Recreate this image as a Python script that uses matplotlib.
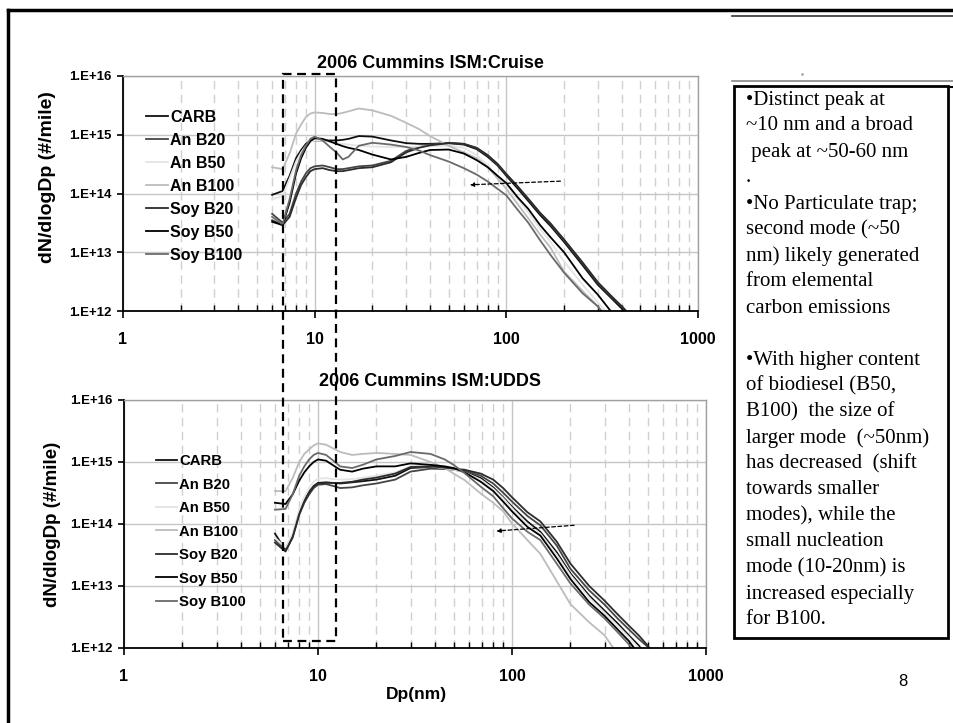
import numpy as np
import matplotlib
matplotlib.use("Agg")
import matplotlib.pyplot as plt
import matplotlib.transforms as mtransforms
from matplotlib.ticker import LogLocator, FuncFormatter, NullLocator, NullFormatter
from matplotlib.patches import Rectangle
from matplotlib.lines import Line2D

plt.rcParams['font.family'] = ['Liberation Sans', 'DejaVu Sans']

# Series
series_names = ['CARB', 'An B20', 'An B50', 'An B100', 'Soy B20', 'Soy B50', 'Soy B100']
series_colors = ['#101010', '#454545', '#e4e4e4', '#bcbcbc', '#2c2c2c', '#000000', '#6a6a6a']

# Cruise cycle (top chart), particle diameter in nm
dp_cruise = [6, 6.8, 7.4, 8, 8.5, 9, 9.5, 10, 11, 12, 13, 14, 15, 17, 20, 25, 30, 35, 40, 50, 60, 70, 80, 90,
             100, 115, 130, 150, 170, 200, 250, 300, 350, 400, 450]
cruise_carb = [9.5e13, 1.1e14, 2e14, 4e14, 5.5e14, 7e14, 7.8e14, 8e14, 8e14, 8e14, 8e14, 8.2e14, 8.5e14, 9.5e14,
               9.3e14, 8e14, 7.2e14, 7e14, 7e14, 7.2e14, 6.8e14, 5.7e14, 4.2e14, 3e14, 2e14, 1.2e14, 7.5e13,
               4.3e13, 2.8e13, 1.5e13, 6e12, 2.8e12, 1.7e12, 1.1e12, 7e11]
cruise_anb20 = [4.5e13, 3.2e13, 4.5e13, 1e14, 1.6e14, 2.2e14, 2.7e14, 2.9e14, 3e14, 2.8e14, 2.6e14, 2.6e14, 2.7e14,
                2.9e14, 3e14, 3.6e14, 5.3e14, 6.2e14, 6.8e14, 7.3e14, 7e14, 5.9e14, 4.4e14, 3.1e14, 2.1e14, 1.3e14,
                8e13, 4.6e13, 3e13, 1.6e13, 6.5e12, 3e12, 1.8e12, 1.2e12, 8e11]
cruise_anb50 = [8e13, 9e13, 1.8e14, 3.5e14, 5e14, 6.5e14, 7.5e14, 8e14, 8e14, 7.6e14, 7.2e14, 7e14, 6.8e14, 6.5e14,
                6.3e14, 6.2e14, 6.2e14, 6.3e14, 6.4e14, 6.5e14, 6e14, 4.5e14, 3e14, 2e14, 1.4e14, 8e13, 4.8e13,
                2.5e13, 1.5e13, 7e12, 2.8e12, 1.4e12, 8e11, 5e11, 3e11]
cruise_anb100 = [2.8e14, 2.6e14, 4.8e14, 1.05e15, 1.5e15, 2e15, 2.3e15, 2.4e15, 2.35e15, 2.25e15, 2.25e15, 2.35e15,
                 2.5e15, 2.8e15, 2.6e15, 2.1e15, 1.6e15, 1.25e15, 9.5e14, 6.5e14, 5e14, 4e14, 2.8e14, 1.8e14,
                 1.2e14, 6.5e13, 3.8e13, 2e13, 1.2e13, 4.7e12, 2.2e12, 1.2e12, 7e11, 4e11, 3e11]
cruise_soyb20 = [3.5e13, 2.9e13, 4e13, 8.5e13, 1.4e14, 1.9e14, 2.4e14, 2.6e14, 2.7e14, 2.5e14, 2.4e14, 2.4e14,
                 2.5e14, 2.7e14, 2.8e14, 3.4e14, 5e14, 6e14, 6.6e14, 7.2e14, 7e14, 6e14, 4.5e14, 3.2e14, 2.15e14,
                 1.3e14, 8.2e13, 4.7e13, 3.1e13, 1.65e13, 6.7e12, 3.1e12, 1.85e12, 1.2e12, 8e11]
cruise_soyb50 = [3.3e13, 2.9e13, 7e13, 2.2e14, 4e14, 6e14, 7.8e14, 8.8e14, 8.5e14, 7.7e14, 7e14, 6.4e14, 6e14,
                 5.5e14, 4.6e14, 3.8e14, 4.2e14, 4.9e14, 5.5e14, 5.6e14, 4.8e14, 3.7e14, 2.8e14, 2e14, 1.5e14,
                 8.5e13, 5.5e13, 2.9e13, 1.8e13, 1e13, 3.6e12, 1.9e12, 1e12, 6e11, 4e11]
cruise_soyb100 = [4e13, 3e13, 8e13, 2.5e14, 4.5e14, 6.5e14, 8.5e14, 9.3e14, 8e14, 6.2e14, 5e14, 3.8e14, 4.2e14,
                  6.5e14, 7.3e14, 6.8e14, 6.2e14, 5.4e14, 4.5e14, 3.5e14, 2.7e14, 2.1e14, 1.6e14, 1.2e14, 9.3e13,
                  5.2e13, 3.2e13, 1.6e13, 9e12, 4.5e12, 2e12, 1.2e12, 6e11, 4e11, 3e11]

# UDDS cycle (bottom chart)
dp_udds = [6, 6.8, 7.4, 8, 8.5, 9, 9.5, 10, 11, 12, 13, 15, 17, 20, 25, 30, 38, 45, 50, 57, 69, 80, 90, 100,
           120, 140, 170, 200, 250, 300, 350, 400, 450, 500, 550]
udds_carb = [7e13, 3.8e13, 6.5e13, 1.5e14, 2.4e14, 3.3e14, 4.1e14, 4.6e14, 4.7e14, 4.6e14, 4.5e14, 4.7e14, 4.9e14,
             5.2e14, 6e14, 8e14, 8.3e14, 7.8e14, 7.5e14, 7e14, 5.5e14, 3.9e14, 2.7e14, 1.9e14, 1.1e14, 7.5e13,
             3.5e13, 1.6e13, 7e12, 4e12, 2.5e12, 1.6e12, 1.1e12, 7e11, 4e11]
udds_anb20 = [5.5e13, 3.7e13, 6e13, 1.4e14, 2.2e14, 3e14, 3.8e14, 4.3e14, 4.4e14, 4.1e14, 3.8e14, 3.9e14, 4.2e14,
              4.5e14, 5.2e14, 7e14, 7.8e14, 7.7e14, 7.6e14, 7.3e14, 6e14, 4.5e14, 3.2e14, 2.3e14, 1.35e14, 9.5e13,
              4.5e13, 1.9e13, 8.5e12, 5e12, 3e12, 2e12, 1.4e12, 1.05e12, 7e11]
udds_anb50 = [6e13, 4.2e13, 7e13, 1.7e14, 2.7e14, 3.8e14, 4.8e14, 5.4e14, 5.5e14, 5.3e14, 5.2e14, 5.3e14, 5.6e14,
              6e14, 6.8e14, 8.5e14, 8.5e14, 7.9e14, 7.5e14, 6.8e14, 5.2e14, 3.7e14, 2.6e14, 1.8e14, 1e14, 7e13,
              3.2e13, 1.5e13, 6.5e12, 3.7e12, 2.3e12, 1.5e12, 1e12, 6.5e11, 4e11]
udds_anb100 = [3.4e14, 3.4e14, 5.5e14, 1e15, 1.35e15, 1.6e15, 1.85e15, 2e15, 1.9e15, 1.65e15, 1.45e15, 1.3e15,
               1.35e15, 1.4e15, 1.35e15, 1.3e15, 1e15, 8e14, 6.5e14, 5.1e14, 3.1e14, 2.2e14, 1.6e14, 1.02e14,
               5.5e13, 3.3e13, 1.2e13, 5.1e12, 2.6e12, 1.6e12, 8e11, 5e11, 3e11, 2e11, 1e11]
udds_soyb20 = [5e13, 3.6e13, 6.2e13, 1.45e14, 2.3e14, 3.2e14, 4e14, 4.5e14, 4.6e14, 4.6e14, 4.6e14, 4.8e14, 5.2e14,
               5.6e14, 6.5e14, 8.3e14, 8.5e14, 8.1e14, 7.8e14, 7.5e14, 6.5e14, 5.2e14, 3.8e14, 2.7e14, 1.55e14,
               1.1e14, 5.2e13, 2.3e13, 1e13, 5.8e12, 3.5e12, 2.3e12, 1.6e12, 1.1e12, 7e11]
udds_soyb50 = [2.2e14, 2.1e14, 3e14, 5e14, 6.8e14, 8.5e14, 1e15, 1.1e15, 1.05e15, 8.8e14, 7.5e14, 7e14, 7.8e14,
               8.5e14, 8.5e14, 9.5e14, 9e14, 8.5e14, 8e14, 6.8e14, 4.8e14, 3.4e14, 2.3e14, 1.6e14, 9e13, 6.5e13,
               2.8e13, 1.3e13, 5.5e12, 3.3e12, 2e12, 1.3e12, 8e11, 5e11, 3e11]
udds_soyb100 = [1.7e14, 1.75e14, 3e14, 6e14, 8.5e14, 1.1e15, 1.3e15, 1.4e15, 1.3e15, 1.05e15, 8.5e14, 8e14, 9e14,
                1.1e15, 1.25e15, 1.45e15, 1.35e15, 1.1e15, 9e14, 6.6e14, 4e14, 2.8e14, 1.8e14, 1.23e14, 7.5e13,
                5.5e13, 2.3e13, 1.1e13, 5e12, 3e12, 1.8e12, 1.15e12, 7e11, 4e11, 3e11]

cruise_series = [cruise_carb, cruise_anb20, cruise_anb50, cruise_anb100, cruise_soyb20, cruise_soyb50, cruise_soyb100]
udds_series = [udds_carb, udds_anb20, udds_anb50, udds_anb100, udds_soyb20, udds_soyb50, udds_soyb100]

box_lines = ['\u2022Distinct peak at', '~10 nm and a broad', ' peak at ~50-60 nm', '.',
             '\u2022No Particulate trap;', 'second mode (~50', 'nm) likely generated', 'from elemental',
             'carbon emissions', '', '\u2022With higher content', 'of biodiesel (B50,', 'B100)  the size of',
             'larger mode  (~50nm)', 'has decreased  (shift', 'towards smaller', 'modes), while the',
             'small nucleation', 'mode (10-20nm) is', 'increased especially', 'for B100.']

W, H = 954, 723
fig = plt.figure(figsize=(W / 100, H / 100), dpi=100)


def fx(px):
    return px / W


def fy(py):
    return 1 - py / H


def style_axes(ax):
    ax.set_xscale('log')
    ax.set_yscale('log')
    ax.set_xlim(1, 1000)
    ax.set_ylim(1e12, 1e16)
    ax.xaxis.set_major_locator(LogLocator(base=10, numticks=10))
    ax.xaxis.set_minor_locator(LogLocator(base=10, subs=np.arange(2, 10), numticks=20))
    ax.xaxis.set_minor_formatter(NullFormatter())
    ax.xaxis.set_major_formatter(FuncFormatter(lambda v, p: '%d' % round(v)))
    ax.yaxis.set_major_locator(LogLocator(base=10, numticks=10))
    ax.yaxis.set_minor_locator(NullLocator())
    ax.yaxis.set_major_formatter(FuncFormatter(lambda v, p: '1.E+%d' % round(np.log10(v))))
    ax.grid(which='major', axis='both', color='#c6c6c6', lw=1.0, ls='-')
    ax.grid(which='minor', axis='x', color='#d0d0d0', lw=1.0, ls=(0, (6, 4)))
    ax.set_axisbelow(True)
    for s in ['left', 'bottom']:
        ax.spines[s].set_color('black')
        ax.spines[s].set_linewidth(1.3)
    for s in ['top', 'right']:
        ax.spines[s].set_color('#a0a0a0')
        ax.spines[s].set_linewidth(1.0)
    ax.tick_params(axis='x', which='major', direction='out', length=5, width=1.2, pad=10,
                   labelsize=11.5)
    ax.tick_params(axis='x', which='minor', direction='in', length=4, width=1.0)
    ax.tick_params(axis='y', which='major', direction='out', length=4, width=1.2, pad=4,
                   labelsize=9.5)
    for lab in ax.get_xticklabels() + ax.get_yticklabels():
        lab.set_fontweight('bold')


ax1 = fig.add_axes([fx(123), fy(311), fx(698) - fx(123), fy(76) - fy(311)])
ax2 = fig.add_axes([fx(124), fy(648), fx(706) - fx(124), fy(400) - fy(648)])

for ax, dp, data in [(ax1, dp_cruise, cruise_series), (ax2, dp_udds, udds_series)]:
    for name, color, vals in zip(series_names, series_colors, data):
        ax.plot(dp, vals, color=color, lw=1.3, label=name)
    style_axes(ax)

leg1 = ax1.legend(loc='upper left', bbox_to_anchor=(fx(146), fy(110)), bbox_transform=fig.transFigure,
                  frameon=False, handlelength=1.4, handletextpad=0.1, labelspacing=0.5, borderpad=0,
                  borderaxespad=0, prop={'weight': 'bold', 'size': 11.5})
leg2 = ax2.legend(loc='upper left', bbox_to_anchor=(fx(156), fy(454)), bbox_transform=fig.transFigure,
                  frameon=False, handlelength=1.4, handletextpad=0.15, labelspacing=0.64, borderpad=0,
                  borderaxespad=0, prop={'weight': 'bold', 'size': 10.7})

# titles and axis labels
fig.text(fx(430), fy(63), '2006 Cummins ISM:Cruise', ha='center', va='center', fontsize=13, fontweight='bold')
fig.text(fx(430), fy(381), '2006 Cummins ISM:UDDS', ha='center', va='center', fontsize=13, fontweight='bold')
fig.text(fx(48), fy(177), 'dN/dlogDp (#/mile)', rotation=90, ha='center', va='center', fontsize=14,
         fontweight='bold')
fig.text(fx(53), fy(524), 'dN/dlogDp (#/mile)', rotation=90, ha='center', va='center', fontsize=13.5,
         fontweight='bold')
fig.text(fx(416), fy(694), 'Dp(nm)', ha='center', va='center', fontsize=12.5, fontweight='bold')

# dashed arrows
ax1.annotate('', xy=(62.4, 1.4e14), xytext=(198, 1.63e14),
             arrowprops=dict(arrowstyle='-|>', ls=(0, (3, 2)), lw=0.9, color='black', mutation_scale=6))
ax2.annotate('', xy=(80.4, 7.65e13), xytext=(216, 9.6e13),
             arrowprops=dict(arrowstyle='-|>', ls=(0, (3, 2)), lw=0.9, color='black', mutation_scale=6))

# dashed box around the nucleation mode
blend = mtransforms.blended_transform_factory(ax1.transData, fig.transFigure)
rect = Rectangle((6.82, fy(641)), 12.9 - 6.82, fy(74) - fy(641), transform=blend, fill=False,
                 ls=(0, (4, 2.5)), lw=1.6, edgecolor='black', clip_on=False, zorder=10)
fig.add_artist(rect)

# slide frame and decorations
fig.add_artist(Line2D([fx(8), 1], [fy(10), fy(10)], color='black', lw=2.5))
fig.add_artist(Line2D([fx(8.5), fx(8.5)], [0, fy(10)], color='black', lw=2.5))
fig.add_artist(Line2D([fx(732), 1], [fy(16), fy(16)], color='#333333', lw=1.2))
fig.add_artist(Line2D([fx(732), 1], [fy(81), fy(81)], color='#888888', lw=1.2))
fig.add_artist(Line2D([fx(948), 1], [fy(87), fy(87)], color='black', lw=1.5))
fig.add_artist(Line2D([fx(802)], [fy(74)], marker='.', color='#aaaaaa', markersize=2, lw=0))

box = Rectangle((fx(734), fy(638)), fx(948) - fx(734), fy(86) - fy(638), transform=fig.transFigure,
                facecolor='white', edgecolor='black', lw=2)
fig.add_artist(box)
for i, line in enumerate(box_lines):
    fig.text(fx(746), fy(100 + i * 26), line, ha='left', va='center', fontsize=15,
             family=['Liberation Serif', 'DejaVu Serif'])

fig.text(fx(903), fy(682), '8', ha='center', va='center', fontsize=12)

fig.savefig('out.png', dpi=100)
